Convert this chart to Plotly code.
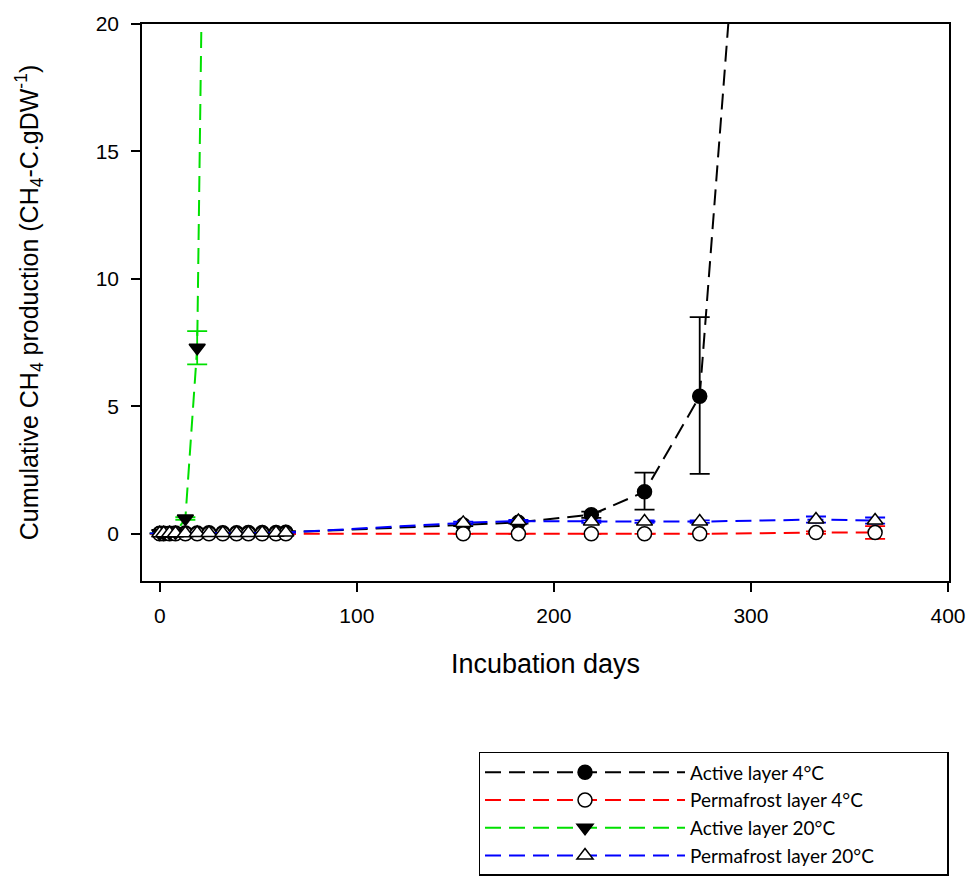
import plotly.graph_objects as go

# Incubation days
days_early = [0, 2, 5, 8, 13, 19, 25, 32, 39, 45, 52, 59, 64]
days_late = [154, 182, 219, 246, 274, 333, 363]
days_all = days_early + days_late

# Active layer 4°C
act4_y = [0.02, 0.02, 0.02, 0.03, 0.03, 0.03, 0.04, 0.04, 0.04, 0.05, 0.05, 0.05, 0.06,
          0.35, 0.45, 0.75, 1.65, 5.4, 65.0, 95.0]
act4_err_up = [0, 0, 0, 0, 0, 0, 0, 0, 0, 0, 0, 0, 0.05,
               0.05, 0.05, 0.12, 0.75, 3.1, 0, 0]
act4_err_dn = [0, 0, 0, 0, 0, 0, 0, 0, 0, 0, 0, 0, 0.05,
               0.05, 0.05, 0.12, 0.7, 3.05, 0, 0]

# Permafrost layer 4°C
perm4_y = [0.0, 0.0, 0.0, 0.0, 0.0, 0.0, 0.0, 0.0, 0.0, 0.0, 0.0, 0.0, 0.0,
           0.0, 0.0, 0.0, 0.0, 0.0, 0.05, 0.05]
perm4_err = [0, 0, 0, 0, 0, 0, 0, 0, 0, 0, 0, 0, 0,
             0, 0, 0, 0, 0, 0.05, 0.25]

# Active layer 20°C
act20_days = [0, 2, 5, 8, 13, 19, 25]
act20_y = [0.02, 0.02, 0.03, 0.05, 0.6, 7.3, 43.0]
act20_err = [0, 0, 0, 0, 0.05, 0.65, 0]

# Permafrost layer 20°C
perm20_y = [0.02, 0.02, 0.02, 0.02, 0.02, 0.03, 0.03, 0.03, 0.03, 0.03, 0.04, 0.04, 0.05,
            0.43, 0.5, 0.48, 0.48, 0.48, 0.56, 0.52]
perm20_err = [0, 0, 0, 0, 0, 0, 0, 0, 0, 0, 0, 0, 0,
              0.05, 0.05, 0.05, 0.05, 0.05, 0.12, 0.12]

series_names = ["Active layer 4°C", "Permafrost layer 4°C",
                "Active layer 20°C", "Permafrost layer 20°C"]

fig = go.Figure()

PAD = "\u00a0" * 14

def add(name, x, y, eu, ed, color, symbol, fill, errcolor):
    fig.add_trace(go.Scatter(
        x=x, y=y, name=name + PAD, mode="lines+markers",
        line=dict(color=color, width=2, dash="16px,8px"),
        marker=dict(symbol=symbol, size=14, color=fill,
                    line=dict(color="black", width=1.5)),
        error_y=dict(type="data", array=eu, arrayminus=ed, symmetric=False,
                     color=errcolor, thickness=1.8, width=10),
    ))

add(series_names[0], days_all, act4_y, act4_err_up, act4_err_dn,
    "black", "circle", "black", "black")
add(series_names[1], days_all, perm4_y, perm4_err, perm4_err,
    "#ff0000", "circle", "white", "#ff0000")
add(series_names[2], act20_days, act20_y, act20_err, act20_err,
    "#00e000", "triangle-down", "black", "#00e000")
add(series_names[3], days_all, perm20_y, perm20_err, perm20_err,
    "#0000ff", "triangle-up", "white", "#0000ff")

axis_font = dict(family="Liberation Sans, Arial, sans-serif", size=21, color="black")

fig.update_layout(
    width=978, height=888,
    margin=dict(l=142, r=25, t=16, b=305),
    paper_bgcolor="white", plot_bgcolor="white",
    showlegend=True,
    legend=dict(
        x=0.417, y=-0.307, xanchor="left", yanchor="top",
        bordercolor="black", borderwidth=1.5,
        font=dict(family="Lato, Open Sans, sans-serif", size=19, color="black"),
        itemwidth=200,
        bgcolor="white",
    ),
    xaxis=dict(
        range=[-9, 400.5], tickvals=[0, 100, 200, 300, 400],
        showgrid=False, zeroline=False,
        showline=True, linecolor="black", linewidth=1.5, mirror=True,
        ticks="outside", ticklen=9, tickwidth=1.5, tickcolor="black",
        tickfont=axis_font, ticklabelstandoff=6,
        title=dict(text="Incubation days", font=dict(family="Liberation Sans, Arial, sans-serif", size=27, color="black"), standoff=28),
    ),
    yaxis=dict(
        range=[-1.85, 20], tickvals=[0, 5, 10, 15, 20],
        showgrid=False, zeroline=False,
        showline=True, linecolor="black", linewidth=1.5, mirror=True,
        ticks="outside", ticklen=9, tickwidth=1.5, tickcolor="black",
        tickfont=axis_font, ticklabelstandoff=8,
        title=dict(text="Cumulative CH<sub>4</sub> production (CH<sub>4</sub>-C.gDW<sup>-1</sup>)",
                   font=dict(family="Liberation Sans, Arial, sans-serif", size=25, color="black"), standoff=50),
    ),
)

fig.write_html("out.html")
